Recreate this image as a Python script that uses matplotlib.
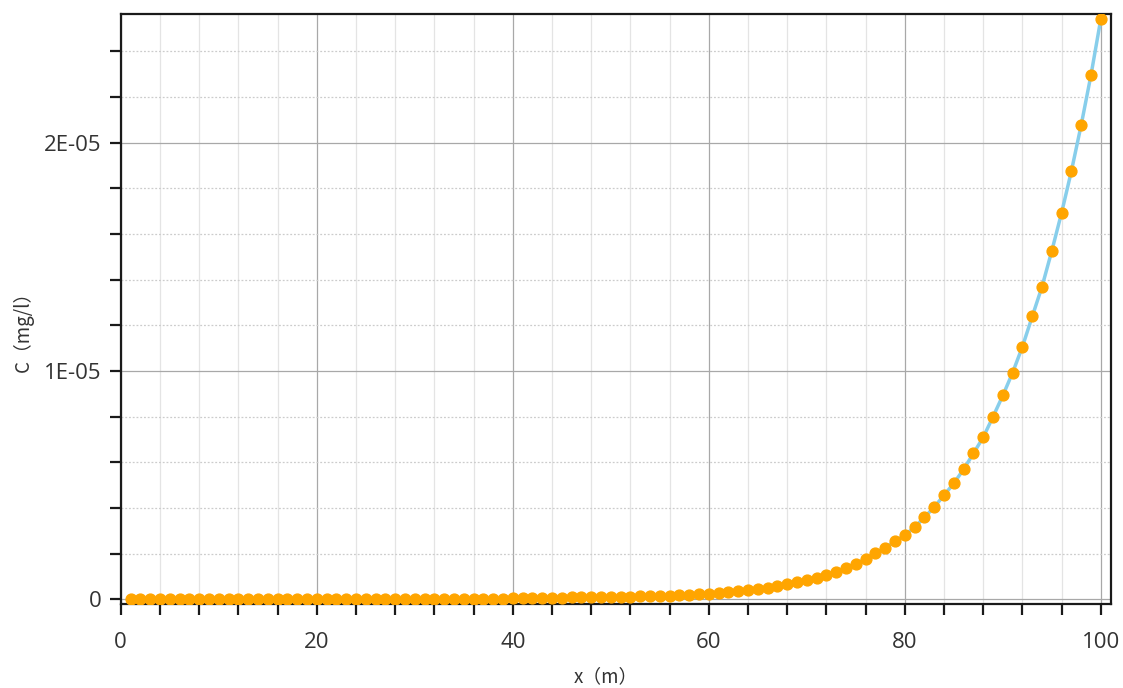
import numpy as np
import matplotlib
matplotlib.use('Agg')
import matplotlib.pyplot as plt
from matplotlib.ticker import MultipleLocator, FuncFormatter

# distance along x (m)
x_m = list(range(1, 101))

# concentration in units of 1e-6 mg/l
c_low = [0.00, 0.00, 0.00, 0.00, 0.00, 0.00, 0.00, 0.00, 0.00, 0.00,
         0.00, 0.00, 0.00, 0.00, 0.00, 0.00, 0.00, 0.00, 0.00, 0.00,
         0.00, 0.00, 0.00, 0.00, 0.00, 0.00, 0.00, 0.00, 0.01, 0.01,
         0.01, 0.01, 0.01, 0.01, 0.01, 0.01, 0.02, 0.02, 0.02]          # x = 1..39
c_mid = [0.05, 0.05, 0.06, 0.06, 0.07, 0.07, 0.08, 0.08, 0.09, 0.09,
         0.10, 0.11, 0.12, 0.13, 0.14, 0.15, 0.16, 0.18, 0.20, 0.22]    # x = 40..59
c_high = [0.25, 0.28, 0.31, 0.35, 0.40, 0.45, 0.51, 0.58, 0.66, 0.74,
          0.84, 0.94, 1.06, 1.20, 1.36, 1.55, 1.77, 2.01, 2.27, 2.54,
          2.81, 3.16, 3.59, 4.04, 4.56, 5.08, 5.70, 6.39, 7.10, 8.00,
          8.93, 9.93, 11.07, 12.39, 13.70, 15.27, 16.94, 18.77, 20.79, 22.98,
          25.43]                                                         # x = 60..100
conc = np.array(c_low + c_mid + c_high) * 1e-6

x_label = 'x（m）'
y_label = 'C（mg/l）'


def sci_fmt(v, pos):
    if abs(v) < 1e-12:
        return '0'
    return '%dE-05' % round(v / 1e-5)


fig = plt.figure(figsize=(11.23, 6.88), dpi=100)
ax = fig.add_axes([0.1075, 0.1216, 0.8815, 0.858])

ax.plot(x_m, conc, color='#87CEEB', lw=2.5, zorder=3)
ax.plot(x_m, conc, 'o', color='#FFA500', ms=7.8, mec='#FFA500', zorder=4)

ax.set_xlim(0, 101)
ax.set_ylim(-0.22e-6, 25.64e-6)

ax.xaxis.set_major_locator(MultipleLocator(20))
ax.xaxis.set_minor_locator(MultipleLocator(4))
ax.yaxis.set_major_locator(MultipleLocator(1e-5))
ax.yaxis.set_minor_locator(MultipleLocator(2e-6))
ax.yaxis.set_major_formatter(FuncFormatter(sci_fmt))

ax.grid(which='major', color='#a8a8a8', lw=0.9, ls='-')
ax.grid(which='minor', axis='x', color='#e4e4e4', lw=0.9, ls='-')
ax.grid(which='minor', axis='y', color='#cccccc', lw=0.9, ls=(0, (1.5, 1.5)))
ax.set_axisbelow(True)

for s in ax.spines.values():
    s.set_linewidth(1.6)
    s.set_color('#1a1a1a')

ax.tick_params(which='both', direction='out', length=8, width=1.6,
               color='#1a1a1a', labelsize=16, labelcolor='#333333')
ax.tick_params(axis='x', pad=12)
ax.tick_params(axis='y', pad=6)
for lab in ax.get_xticklabels() + ax.get_yticklabels():
    lab.set_family(['Open Sans', 'DejaVu Sans'])

ax.set_xlabel(x_label, fontsize=13.5, color='#333333',
              family=['Noto Sans CJK SC', 'DejaVu Sans'])
ax.set_ylabel(y_label, fontsize=13.5, color='#333333',
              family=['Noto Sans CJK SC', 'DejaVu Sans'])
ax.xaxis.set_label_coords(0.49, -0.104)
ax.yaxis.set_label_coords(-0.088, 0.47)

fig.savefig('out.png', dpi=100)
